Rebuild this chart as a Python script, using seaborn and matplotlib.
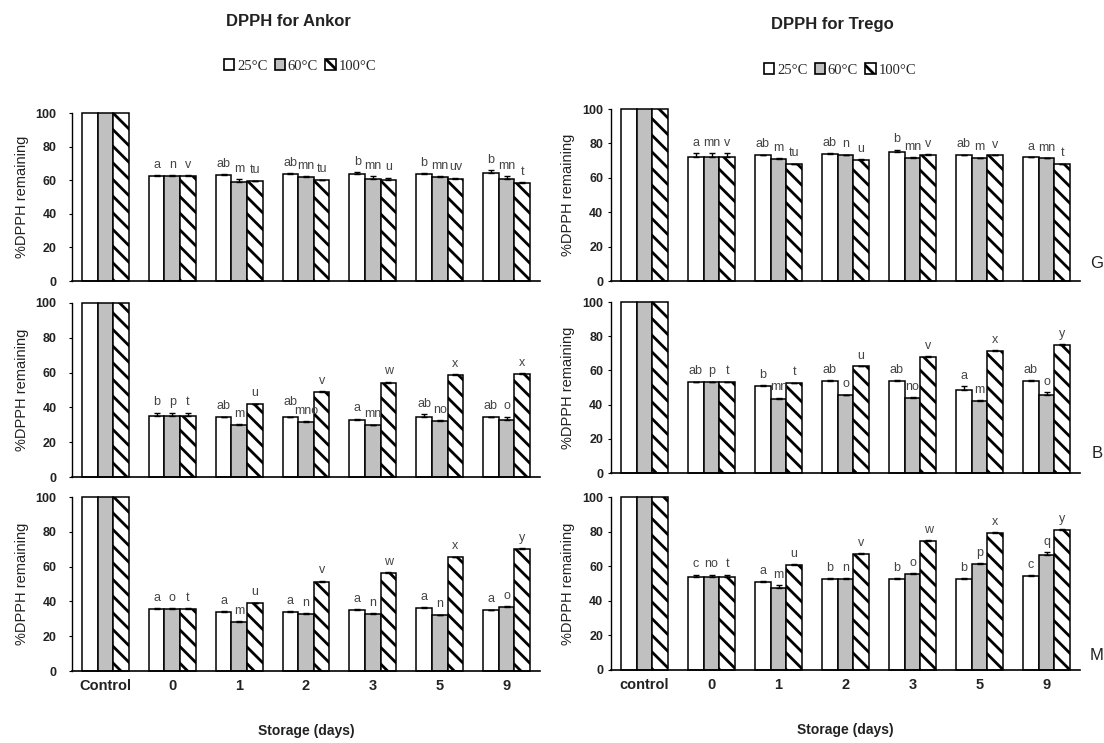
import matplotlib
matplotlib.use("Agg")
import matplotlib.pyplot as plt
from matplotlib.patches import Patch
import seaborn as sns
import pandas as pd

# ---------------- data ----------------
days = ["Control", "0", "1", "2", "3", "5", "9"]
days_right = ["control", "0", "1", "2", "3", "5", "9"]
temps = ["25°C", "60°C", "100°C"]

# Ankor (left column); each row: values for 25, 60, 100 °C across days
ankor_G = [[100, 62.5, 62.8, 63.7, 63.5, 63.5, 64.5],
           [100, 62.5, 59.1, 62.0, 61.0, 62.0, 61.0],
           [100, 62.5, 59.3, 60.1, 60.0, 61.0, 58.5]]
ankor_G_err = [[0, 0.3, 0.7, 0.3, 1.5, 0.5, 1.5],
               [0, 0.3, 1.5, 0.5, 1.5, 0.5, 1.5],
               [0, 0.3, 0.5, 0.2, 1.5, 0.5, 0.3]]
ankor_G_let = [["", "a", "ab", "ab", "b", "b", "b"],
               ["", "n", "m", "mn", "mn", "mn", "mn"],
               ["", "v", "tu", "tu", "u", "uv", "t"]]

ankor_B = [[100, 35.0, 34.2, 34.2, 33.0, 34.2, 34.2],
           [100, 35.0, 29.8, 31.7, 29.8, 32.3, 32.7],
           [100, 35.0, 41.9, 49.0, 54.2, 58.6, 59.2]]
ankor_B_err = [[0, 2.0, 0.5, 0.5, 0.5, 2.0, 0.5],
               [0, 2.0, 0.5, 0.5, 0.2, 0.2, 2.0],
               [0, 2.0, 0.2, 0.5, 0.5, 0.5, 0.5]]
ankor_B_let = [["", "b", "ab", "ab", "a", "ab", "ab"],
               ["", "p", "m", "mno", "mn", "no", "o"],
               ["", "t", "u", "v", "w", "x", "x"]]

ankor_M = [[100, 35.7, 34.0, 34.0, 35.0, 36.0, 35.0],
           [100, 35.7, 28.0, 32.6, 32.6, 32.2, 36.8],
           [100, 35.7, 39.0, 51.4, 56.6, 65.3, 70.2]]
ankor_M_err = [[0, 0.5, 0.5, 0.5, 0.5, 0.5, 0.2],
               [0, 0.5, 0.5, 0.5, 0.5, 0.2, 0.5],
               [0, 0.5, 0.2, 0.5, 0.2, 0.5, 0.5]]
ankor_M_let = [["", "a", "a", "a", "a", "a", "a"],
               ["", "o", "m", "n", "n", "n", "o"],
               ["", "t", "u", "v", "w", "x", "y"]]

# Trego (right column)
trego_G = [[100, 72.0, 73.0, 74.0, 74.8, 73.0, 72.0],
           [100, 72.0, 71.0, 73.0, 71.6, 71.3, 71.3],
           [100, 72.0, 68.0, 70.5, 73.2, 73.0, 68.0]]
trego_G_err = [[0, 2.3, 0.5, 0.5, 1.5, 0.5, 0.2],
               [0, 2.3, 0.5, 0.5, 0.5, 0.5, 0.3],
               [0, 2.3, 0.3, 0.3, 0.5, 0.3, 0.3]]
trego_G_let = [["", "a", "ab", "ab", "b", "ab", "a"],
               ["", "mn", "m", "n", "mn", "m", "mn"],
               ["", "v", "tu", "u", "v", "v", "t"]]

trego_B = [[100, 53.0, 51.0, 54.0, 54.0, 48.3, 54.0],
           [100, 53.0, 43.3, 45.6, 44.0, 42.3, 45.6],
           [100, 53.0, 52.6, 62.4, 67.8, 71.5, 75.0]]
trego_B_err = [[0, 0.5, 0.2, 0.5, 0.5, 2.5, 0.5],
               [0, 0.5, 0.7, 0.3, 0.3, 0.5, 1.5],
               [0, 0.5, 0.3, 0.3, 0.5, 0.3, 0.5]]
trego_B_let = [["", "ab", "b", "ab", "ab", "a", "ab"],
               ["", "p", "mn", "o", "no", "m", "o"],
               ["", "t", "t", "u", "v", "x", "y"]]

trego_M = [[100, 53.7, 51.0, 52.7, 52.7, 52.7, 54.6],
           [100, 53.7, 47.5, 52.7, 55.4, 61.4, 66.6],
           [100, 53.7, 60.6, 67.2, 74.7, 79.2, 80.9]]
trego_M_err = [[0, 1.5, 0.5, 0.2, 0.2, 0.2, 0.2],
               [0, 1.5, 1.5, 0.2, 0.5, 0.2, 1.5],
               [0, 1.5, 0.5, 0.5, 0.2, 0.5, 0.5]]
trego_M_let = [["", "c", "a", "b", "b", "b", "c"],
               ["", "no", "m", "n", "o", "p", "q"],
               ["", "t", "u", "v", "w", "x", "y"]]

panel_letters = ["G", "B", "M"]

# ---------------- style ----------------
sns.set_theme(style="ticks")
plt.rcParams["font.family"] = ["Liberation Sans", "DejaVu Sans"]
plt.rcParams["hatch.linewidth"] = 2.0
plt.rcParams["hatch.color"] = "black"

W, H = 1104, 743
fig = plt.figure(figsize=(W / 100, H / 100), dpi=100)
fig.patch.set_facecolor("white")

GRAY = "#C0C0C0"
TXT = "#222222"
LET = "#444444"
HATCH = "\\\\"


def rect(x0, y0, x1, y1):
    return [x0 / W, 1 - y1 / H, (x1 - x0) / W, (y1 - y0) / H]


left_rects = [rect(72, 113, 540, 281), rect(72, 303, 540, 477), rect(72, 497, 540, 671)]
right_rects = [rect(611, 109, 1080, 281), rect(611, 302, 1080, 473), rect(611, 497, 1080, 670)]

all_label_groups = []


def draw_panel(ax, cats, vals, errs, lets, bottom, ypad, lpad):
    rows = []
    for t, series in zip(temps, vals):
        for c, v in zip(cats, series):
            rows.append({"day": c, "temp": t, "value": v})
    df = pd.DataFrame(rows)
    sns.barplot(data=df, x="day", y="value", hue="temp", order=cats,
                hue_order=temps, palette=["white", GRAY, "white"],
                edgecolor="black", linewidth=1.1, width=0.7, gap=0,
                errorbar=None, legend=False, ax=ax, saturation=1)
    groups = [[None, None, None] for _ in cats]
    for k, cont in enumerate(ax.containers[:3]):
        for j, p in enumerate(cont.patches):
            p.set_clip_on(False)
            if k == 2:
                p.set_hatch(HATCH)
            xc = p.get_x() + p.get_width() / 2
            top = p.get_height()
            e = errs[k][j]
            if e > 0:
                ax.errorbar(xc, top, yerr=[[0], [e]], fmt="none", ecolor="black",
                            elinewidth=1.0, capsize=2.5, capthick=1.0, clip_on=False)
            if lets[k][j]:
                groups[j][k] = ax.text(xc, top + e + 2.5, lets[k][j], ha="center",
                                       va="bottom", fontsize=9, color=LET)
    all_label_groups.append((ax, groups))
    ax.set_ylim(0, 100)
    ax.set_xlim(-0.5, len(cats) - 0.5)
    ax.set_yticks([0, 20, 40, 60, 80, 100])
    ax.tick_params(axis="y", length=2, width=0.8, pad=ypad, labelsize=9,
                   colors="black", labelcolor=TXT)
    for lab in ax.get_yticklabels():
        lab.set_fontweight("bold")
    ax.tick_params(axis="x", length=0, pad=6, labelsize=10.5, labelcolor=TXT)
    sns.despine(ax=ax)
    ax.spines["left"].set_color("black")
    ax.spines["bottom"].set_color("black")
    ax.spines["left"].set_linewidth(1.0)
    ax.spines["bottom"].set_linewidth(1.2)
    ax.set_ylabel("%DPPH remaining", fontsize=10.5, color=TXT, labelpad=lpad)
    if bottom:
        for lab in ax.get_xticklabels():
            lab.set_fontweight("bold")
        ax.set_xlabel("Storage (days)", fontsize=10, fontweight="bold",
                      color=TXT, labelpad=22)
    else:
        ax.set_xticklabels([])
        ax.set_xlabel("")


left_sets = [(ankor_G, ankor_G_err, ankor_G_let),
             (ankor_B, ankor_B_err, ankor_B_let),
             (ankor_M, ankor_M_err, ankor_M_let)]
right_sets = [(trego_G, trego_G_err, trego_G_let),
              (trego_B, trego_B_err, trego_B_let),
              (trego_M, trego_M_err, trego_M_let)]

for i in range(3):
    axl = fig.add_axes(left_rects[i])
    draw_panel(axl, days, *left_sets[i], bottom=(i == 2), ypad=9, lpad=5)
    axr = fig.add_axes(right_rects[i])
    draw_panel(axr, days_right, *right_sets[i], bottom=(i == 2), ypad=3.5, lpad=5)

# stagger letter labels that collide inside a group (raise the left one)
fig.canvas.draw()
renderer = fig.canvas.get_renderer()
for ax, groups in all_label_groups:
    inv = ax.transData.inverted()
    for g in groups:
        for k in (1, 2):
            a, b = g[k - 1], g[k]
            if a is None or b is None:
                continue
            ba = a.get_window_extent(renderer)
            bb = b.get_window_extent(renderer)
            if ba.x1 > bb.x0 + 0.5 and ba.y0 < bb.y1 and bb.y0 < ba.y1:
                dy_pix = bb.y1 - ba.y0 - 3
                y0 = inv.transform((0, 0))[1]
                y1 = inv.transform((0, dy_pix))[1]
                x, y = a.get_position()
                a.set_position((x, y + (y1 - y0)))

# titles
fig.text(288 / W, 1 - 22 / H, "DPPH for Ankor", ha="center", va="center",
         fontsize=12, fontweight="bold", color=TXT)
fig.text(832 / W, 1 - 25 / H, "DPPH for Trego", ha="center", va="center",
         fontsize=12, fontweight="bold", color=TXT)

# legends
handles = [Patch(facecolor="white", edgecolor="black", linewidth=1.2),
           Patch(facecolor=GRAY, edgecolor="black", linewidth=1.2),
           Patch(facecolor="white", edgecolor="black", linewidth=1.2, hatch=HATCH)]
for cx, cy in [(300, 66), (840, 70)]:
    fig.legend(handles, temps, loc="center", bbox_to_anchor=(cx / W, 1 - cy / H),
               ncol=3, frameon=False, handlelength=0.7, handleheight=0.7,
               handletextpad=0.2, columnspacing=0.5,
               prop={"family": "Liberation Serif", "size": 10.5})

# panel letters
for lab, y in zip(panel_letters, [263, 453, 655]):
    fig.text(1097 / W, 1 - y / H, lab, ha="center", va="center",
             fontsize=12, color=TXT)

fig.savefig("out.png", dpi=100, facecolor="white")
